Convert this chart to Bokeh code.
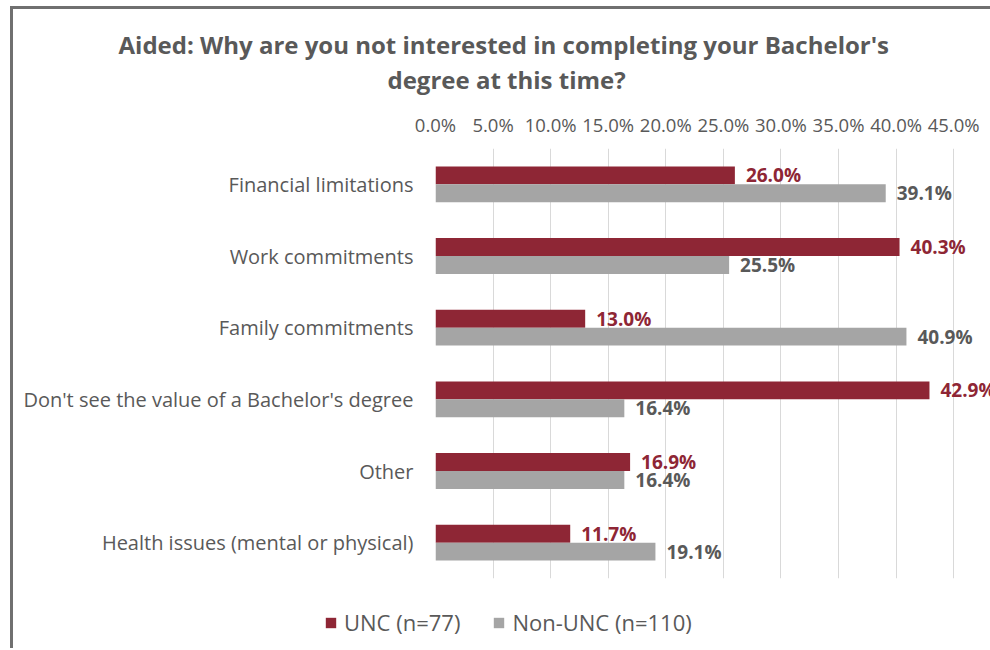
from bokeh.plotting import figure
from bokeh.layouts import column
from bokeh.models import (ColumnDataSource, FactorRange, Range1d, FixedTicker, LabelSet,
                          Legend, LegendItem, Title)
from bokeh.core.properties import value
from bokeh.transform import dodge
from bokeh.embed import file_html
from bokeh.resources import INLINE

categories = ["Financial limitations", "Work commitments", "Family commitments",
              "Don't see the value of a Bachelor's degree", "Other",
              "Health issues (mental or physical)"]
unc = [26.0, 40.3, 13.0, 42.9, 16.9, 11.7]
non_unc = [39.1, 25.5, 40.9, 16.4, 16.4, 19.1]
tick_values = [0, 5, 10, 15, 20, 25, 30, 35, 40, 45]
tick_labels = ["0.0%", "5.0%", "10.0%", "15.0%", "20.0%", "25.0%", "30.0%", "35.0%", "40.0%", "45.0%"]
series_names = ["UNC (n=77)", "Non-UNC (n=110)"]
title_lines = ["Aided: Why are you not interested in completing your Bachelor's",
               "degree at this time?"]

RED = "#8E2635"
GRAY = "#A5A5A5"
TXT = "#595959"
FONT = "Open Sans"

src = ColumnDataSource(dict(
    cat=categories, unc=unc, non=non_unc,
    unc_lbl=[f"{v:.1f}%" for v in unc],
    non_lbl=[f"{v:.1f}%" for v in non_unc],
))

p = figure(width=977, height=573, title=None,
           y_range=FactorRange(factors=list(reversed(categories))),
           x_range=Range1d(0, 48.2), x_axis_location="above",
           output_backend="svg", toolbar_location=None,
           min_border_left=422, min_border_right=0, min_border_top=139, min_border_bottom=4)
p.outline_line_color = None

r1 = p.hbar(y=dodge("cat", 0.125, range=p.y_range), left=0, right="unc", height=0.25,
            source=src, fill_color=RED, line_color=None)
r2 = p.hbar(y=dodge("cat", -0.125, range=p.y_range), left=0, right="non", height=0.25,
            source=src, fill_color=GRAY, line_color=None)

p.add_layout(LabelSet(x="unc", y=dodge("cat", 0.125, range=p.y_range), text="unc_lbl", source=src,
                      x_offset=11, text_baseline="middle", text_font=value(FONT),
                      text_font_size=value("19px"), text_font_style=value("bold"), text_color=RED))
p.add_layout(LabelSet(x="non", y=dodge("cat", -0.125, range=p.y_range), text="non_lbl", source=src,
                      x_offset=11, text_baseline="middle", text_font=value(FONT),
                      text_font_size=value("19px"), text_font_style=value("bold"), text_color=TXT))

p.xaxis.ticker = FixedTicker(ticks=tick_values)
p.xaxis.major_label_overrides = {v: l for v, l in zip(tick_values, tick_labels)}
p.xaxis.axis_line_color = None
p.xaxis.major_tick_line_color = None
p.xaxis.minor_tick_line_color = None
p.xaxis.major_tick_out = 0
p.xaxis.major_tick_in = 0
p.xaxis.minor_tick_out = 0
p.xaxis.minor_tick_in = 0
p.xaxis.major_label_text_font = FONT
p.xaxis.major_label_text_font_size = "18.5px"
p.xaxis.major_label_text_color = TXT
p.xaxis.major_label_standoff = 12
p.xaxis.axis_label = " "
p.xaxis.axis_label_text_font_size = "8px"
p.xaxis.axis_label_standoff = 1

p.yaxis.axis_line_color = None
p.yaxis.major_tick_line_color = None
p.yaxis.minor_tick_line_color = None
p.yaxis.major_tick_out = 0
p.yaxis.major_tick_in = 0
p.yaxis.major_label_text_font = FONT
p.yaxis.major_label_text_font_size = "20px"
p.yaxis.major_label_text_color = TXT
p.yaxis.major_label_standoff = 22

p.xgrid.ticker = FixedTicker(ticks=tick_values)
p.xgrid.grid_line_color = "#d9d9d9"
p.ygrid.grid_line_color = None

t2 = Title(text=title_lines[1], align="left", offset=-48, text_font=FONT, text_font_size="24px",
           text_font_style="bold", text_color=TXT, standoff=0)
t1 = Title(text=title_lines[0], align="left", offset=-317, text_font=FONT, text_font_size="24px",
           text_font_style="bold", text_color=TXT, standoff=0)
p.add_layout(t2, "above")
p.add_layout(t1, "above")

# legend strip below the chart
lg = figure(width=977, height=66, x_range=Range1d(0, 1), y_range=Range1d(0, 1),
            output_backend="svg", toolbar_location=None, frame_align=False,
            min_border_left=0, min_border_right=0, min_border_top=0, min_border_bottom=0)
lg.axis.visible = False
lg.grid.grid_line_color = None
lg.outline_line_color = None
d1 = lg.hbar(y=[-50], left=[-50], right=[-49], height=0.1, fill_color=RED, line_color=None)
d2 = lg.hbar(y=[-50], left=[-50], right=[-49], height=0.1, fill_color=GRAY, line_color=None)
legend = Legend(items=[LegendItem(label=series_names[0], renderers=[d1]),
                       LegendItem(label=series_names[1], renderers=[d2])],
                orientation="horizontal", location=(311, 11),
                glyph_width=13, glyph_height=13, label_standoff=7, spacing=32,
                padding=0, margin=0, border_line_color=None, background_fill_alpha=0,
                label_text_font=FONT, label_text_font_size="22px", label_text_color=TXT)
lg.add_layout(legend, "center")

layout = column(p, lg, spacing=0)
layout.styles = {"margin-left": "10px", "margin-top": "6px",
                 "border-left": "3px solid #707070", "border-top": "3px solid #707070"}

open("out.html", "w").write(file_html(layout, INLINE))
